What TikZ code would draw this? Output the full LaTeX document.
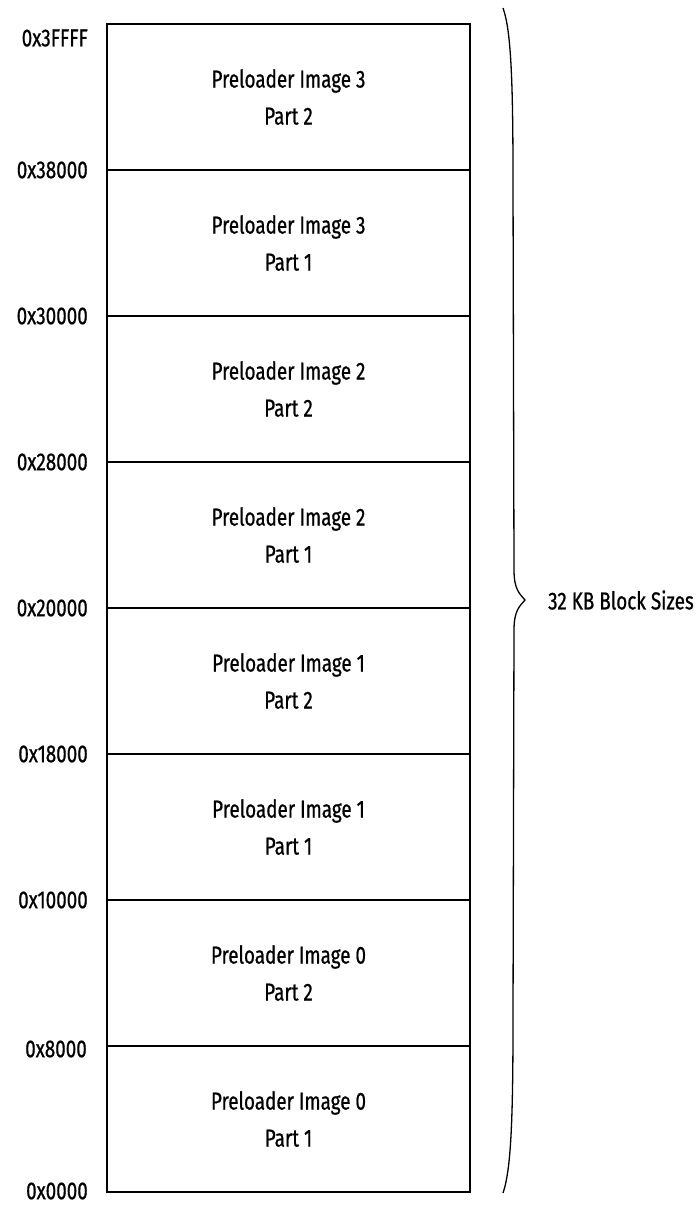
\documentclass[tikz,border=0pt]{standalone}
\usepackage{fontspec}
\setmainfont[FakeStretch=0.77,FakeBold=0.7]{Fira Sans}
\begin{document}
\begin{tikzpicture}[x=1pt,y=-1pt,
  rowbox/.style={draw=black,line width=1.3pt,minimum width=363pt,minimum height=146pt,
    inner sep=0pt,align=center,font=\fontsize{24.5}{37}\selectfont},
  addr/.style={anchor=east,inner sep=0pt,font=\fontsize{24.5}{28}\selectfont},
  bracelbl/.style={anchor=west,inner sep=0pt,font=\fontsize{24.5}{28}\selectfont}]
\useasboundingbox (0,0) rectangle (700,1205);
\node[rowbox] (r7) at (288.5,97)  {Preloader Image 3\\Part 2};
\node[rowbox] (r6) at (288.5,243) {Preloader Image 3\\Part 1};
\node[rowbox] (r5) at (288.5,389) {Preloader Image 2\\Part 2};
\node[rowbox] (r4) at (288.5,535) {Preloader Image 2\\Part 1};
\node[rowbox] (r3) at (288.5,681) {Preloader Image 1\\Part 2};
\node[rowbox] (r2) at (288.5,827) {Preloader Image 1\\Part 1};
\node[rowbox] (r1) at (288.5,973) {Preloader Image 0\\Part 2};
\node[rowbox] (r0) at (288.5,1119) {Preloader Image 0\\Part 1};
\node[addr] (a8) at (88,38)   {0x3FFFF};
\node[addr] (a7) at (88,170)  {0x38000};
\node[addr] (a6) at (88,316)  {0x30000};
\node[addr] (a5) at (88,462)  {0x28000};
\node[addr] (a4) at (88,608)  {0x20000};
\node[addr] (a3) at (88,754)  {0x18000};
\node[addr] (a2) at (88,900)  {0x10000};
\node[addr] (a1) at (87,1049) {0x8000};
\node[addr] (a0) at (88,1191) {0x0000};
\coordinate (btop) at (503,8);
\coordinate (btip) at (525,600);
\coordinate (bbot) at (503,1193);
\draw[line width=1.3pt]
  (btop) .. controls (511,30) and (513,80) .. (513,180)
  -- (514,570) .. controls (514,590) and (520,594) .. (btip)
  .. controls (520,606) and (514,610) .. (514,630)
  -- (513,1020) .. controls (513,1120) and (511,1170) .. (bbot);
\node[bracelbl] (lbl) at (548,600) {32 KB Block Sizes};
\end{tikzpicture}
\end{document}
